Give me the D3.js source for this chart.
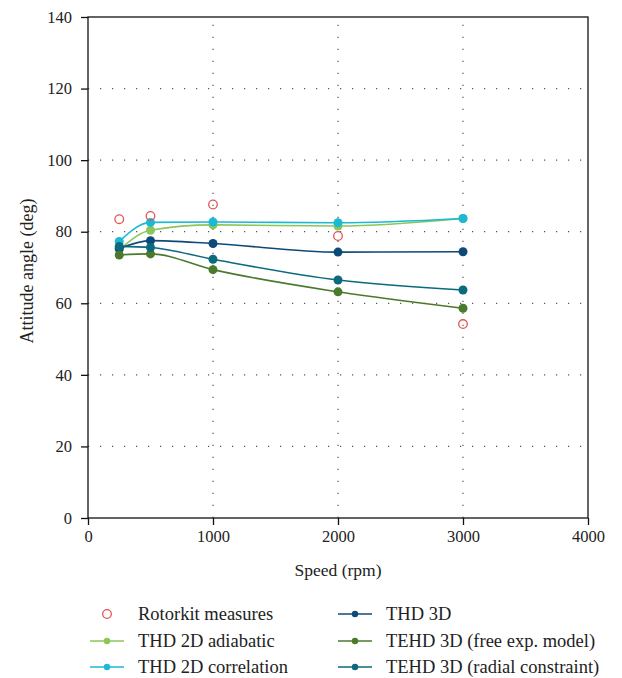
<!DOCTYPE html>
<html><head><meta charset="utf-8">
<script src="https://cdn.jsdelivr.net/npm/d3@7"></script>
<style>body{margin:0;background:#fff}svg{display:block}</style>
</head><body><svg id="c" width="622" height="678"></svg>
<script>
const speeds = [250, 500, 1000, 2000, 3000];
const rotorkit = [83.5, 84.4, 87.6, 78.8, 54.2];
const thd2dAdiabatic = [75.0, 80.4, 81.9, 81.6, 83.7];
const thd2dCorrelation = [77.3, 82.6, 82.7, 82.5, 83.7];
const thd3d = [75.3, 77.5, 76.7, 74.3, 74.4];
const tehdFree = [73.5, 73.8, 69.4, 63.2, 58.6];
const tehdRadial = [75.9, 75.6, 72.3, 66.5, 63.7];
const xTicks = [0, 1000, 2000, 3000, 4000];
const yTicks = [0, 20, 40, 60, 80, 100, 120, 140];

const FONT = '"Liberation Serif", "Times New Roman", serif';
const series = [
  {name:"THD 2D adiabatic", values: thd2dAdiabatic, color:"#8cc65a"},
  {name:"THD 2D correlation", values: thd2dCorrelation, color:"#1bb9d3"},
  {name:"THD 3D", values: thd3d, color:"#0e4a78"},
  {name:"TEHD 3D (free exp. model)", values: tehdFree, color:"#4b7a2c"},
  {name:"TEHD 3D (radial constraint)", values: tehdRadial, color:"#0b6a7e"}
];

const svg = d3.select("#c");
const L = 88, R = 588, T = 17, B = 518;
const x = d3.scaleLinear().domain([0, 4000]).range([L, R]);
const y = d3.scaleLinear().domain([0, 140]).range([B, T]);

// grid
const g = svg.append("g");
g.selectAll(".gy").data(yTicks.filter(v => v > 0 && v < 140)).join("line")
  .attr("x1", L).attr("x2", R).attr("y1", d => y(d)).attr("y2", d => y(d))
  .attr("stroke", "#555").attr("stroke-width", 1.2).attr("stroke-dasharray", "1.2,10.8");
g.selectAll(".gx").data(xTicks.filter(v => v > 0 && v < 4000)).join("line")
  .attr("x1", d => x(d)).attr("x2", d => x(d)).attr("y1", B).attr("y2", T)
  .attr("stroke", "#555").attr("stroke-width", 1.2).attr("stroke-dasharray", "1.2,10.8");

// frame
svg.append("rect").attr("x", L).attr("y", T).attr("width", R - L).attr("height", B - T)
  .attr("fill", "none").attr("stroke", "#111").attr("stroke-width", 1.3);

// axes
const xAxis = svg.append("g").attr("transform", `translate(0,${B})`)
  .call(d3.axisBottom(x).tickValues(xTicks).tickFormat(d3.format("d")).tickSize(7).tickPadding(5));
const yAxis = svg.append("g").attr("transform", `translate(${L},0)`)
  .call(d3.axisLeft(y).tickValues(yTicks).tickSize(7).tickPadding(9));
[xAxis, yAxis].forEach(a => {
  a.select(".domain").remove();
  a.selectAll("line").attr("stroke", "#111").attr("stroke-width", 1.3);
  a.selectAll("text").style("font-size", "16.5px").style("fill", "#222").style("font-family", FONT);
});

svg.append("text").attr("x", (L + R) / 2).attr("y", 576).attr("text-anchor", "middle")
  .style("font-family", FONT).style("font-size", "17.5px").style("fill", "#222").text("Speed (rpm)");
svg.append("text").attr("transform", `translate(33,${271}) rotate(-90)`)
  .attr("text-anchor", "middle").style("font-family", FONT).style("font-size", "18px")
  .style("fill", "#222").text("Attitude angle (deg)");

// lines
const line = d3.line().x((d, i) => x(speeds[i])).y(d => y(d)).curve(d3.curveMonotoneX);
series.forEach(s => {
  svg.append("path").attr("d", line(s.values)).attr("fill", "none")
    .attr("stroke", s.color).attr("stroke-width", 1.6);
});
series.forEach(s => {
  svg.selectAll(null).data(s.values).join("circle")
    .attr("cx", (d, i) => x(speeds[i])).attr("cy", d => y(d)).attr("r", 4.5)
    .attr("fill", s.color);
});
svg.selectAll(null).data(rotorkit).join("circle")
  .attr("cx", (d, i) => x(speeds[i])).attr("cy", d => y(d)).attr("r", 4.3)
  .attr("fill", "none").attr("stroke", "#e05555").attr("stroke-width", 1.3);

// legend
const legend = [
  {name:"Rotorkit measures", color:"#e05555", hollow:true, col:0, row:0},
  {name:series[0].name, color:series[0].color, col:0, row:1},
  {name:series[1].name, color:series[1].color, col:0, row:2},
  {name:series[2].name, color:series[2].color, col:1, row:0},
  {name:series[3].name, color:series[3].color, col:1, row:1},
  {name:series[4].name, color:series[4].color, col:1, row:2}
];
const colX = [90, 338], rowY = [614, 641, 667];
legend.forEach(d => {
  const lx = colX[d.col], ly = rowY[d.row];
  const gg = svg.append("g");
  if (d.hollow) {
    gg.append("circle").attr("cx", lx + 17).attr("cy", ly).attr("r", 4.3)
      .attr("fill", "none").attr("stroke", d.color).attr("stroke-width", 1.3);
  } else {
    gg.append("line").attr("x1", lx).attr("x2", lx + 34).attr("y1", ly).attr("y2", ly)
      .attr("stroke", d.color).attr("stroke-width", 1.6);
    gg.append("circle").attr("cx", lx + 17).attr("cy", ly).attr("r", 3.2).attr("fill", d.color);
  }
  gg.append("text").attr("x", lx + 48).attr("y", ly + 6)
    .style("font-family", FONT).style("font-size", "18.5px").style("fill", "#222").text(d.name);
});
</script></body></html>
